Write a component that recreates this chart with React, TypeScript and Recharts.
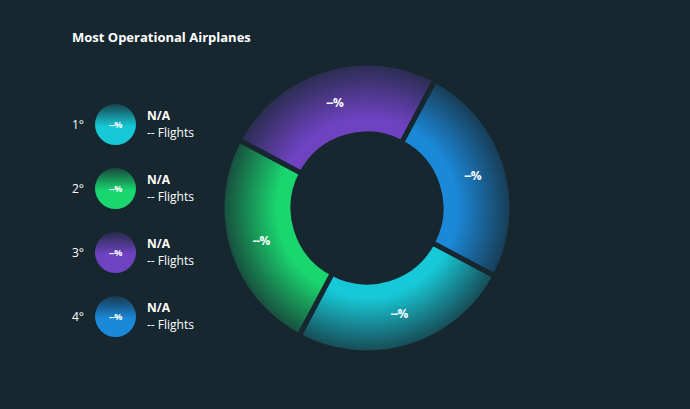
import React from 'react';
import { PieChart, Pie, Cell } from 'recharts';

const ranks = ['1°', '2°', '3°', '4°'];
const airplanes = ['N/A', 'N/A', 'N/A', 'N/A'];
const flights = ['--', '--', '--', '--'];
const shares = [25, 25, 25, 25];
const shareLabels = ['--%', '--%', '--%', '--%'];
const colors = ['#17c8d6', '#1ad66f', '#6e42c1', '#1b88d8'];

const BG = '#172730';
const CX = 367;
const CY = 208;
const RAD = Math.PI / 180;

const data = shares.map((v, i) => ({ name: airplanes[i], value: v, label: shareLabels[i] }));

const renderLabel = (props: any) => {
  const { cx, cy, midAngle, innerRadius, outerRadius, index } = props;
  const r = (innerRadius + outerRadius) / 2 + 1;
  const x = cx + r * Math.cos(-midAngle * RAD);
  const y = cy + r * Math.sin(-midAngle * RAD);
  return (
    <text x={x} y={y} fill="#fff" textAnchor="middle" dominantBaseline="central"
      style={{ fontSize: 12, fontWeight: 700, fontFamily: 'Open Sans', letterSpacing: -0.5 }}>
      {shareLabels[index]}
    </text>
  );
};

export default function App() {
  return (
    <div style={{ position: 'relative', width: 690, height: 409, background: BG, fontFamily: '"Open Sans", sans-serif', color: '#fff', overflow: 'hidden' }}>
      <style>{`body{margin:0}`}</style>
      <div style={{ position: 'absolute', left: 72, top: 28, fontSize: 13, fontWeight: 700 }}>Most Operational Airplanes</div>

      {ranks.map((rank, i) => {
        const top = 124.5 + i * 64.3;
        return (
          <div key={rank} style={{ position: 'absolute', left: 0, top: top - 21, height: 42, width: 230 }}>
            <div style={{ position: 'absolute', left: 72, top: 12, fontSize: 12 }}>{rank}</div>
            <div style={{
              position: 'absolute', left: 95, top: 0, width: 41, height: 41, borderRadius: '50%',
              background: `linear-gradient(180deg, ${colors[i]}30 0%, ${colors[i]} 55%, ${colors[i]} 100%)`,
              display: 'flex', alignItems: 'center', justifyContent: 'center',
              fontSize: 9, fontWeight: 700, letterSpacing: -0.3,
            }}>{shareLabels[i]}</div>
            <div style={{ position: 'absolute', left: 147, top: 3, fontSize: 12, fontWeight: 700 }}>{airplanes[i]}</div>
            <div style={{ position: 'absolute', left: 147, top: 20, fontSize: 12 }}>{flights[i]} Flights</div>
          </div>
        );
      })}

      <div style={{ position: 'absolute', left: 0, top: 0 }}>
        <PieChart width={690} height={409} margin={{ top: 0, right: 0, bottom: 0, left: 0 }}>
          <defs>
            {colors.map((c, i) => (
              <radialGradient key={i} id={`slice-${i}`} gradientUnits="userSpaceOnUse" cx={CX} cy={CY} r={145}>
                <stop offset="0.5" stopColor={c} stopOpacity={1} />
                <stop offset="0.62" stopColor={c} stopOpacity={1} />
                <stop offset="1" stopColor={c} stopOpacity={0.2} />
              </radialGradient>
            ))}
          </defs>
          <Pie
            data={data}
            dataKey="value"
            cx={CX}
            cy={CY}
            innerRadius={74}
            outerRadius={145}
            startAngle={332}
            endAngle={-28}
            label={renderLabel}
            labelLine={false}
            isAnimationActive={false}
          >
            {data.map((d, i) => (
              <Cell key={i} fill={`url(#slice-${i})`} stroke={BG} strokeWidth={5} />
            ))}
          </Pie>
        </PieChart>
      </div>
    </div>
  );
}
